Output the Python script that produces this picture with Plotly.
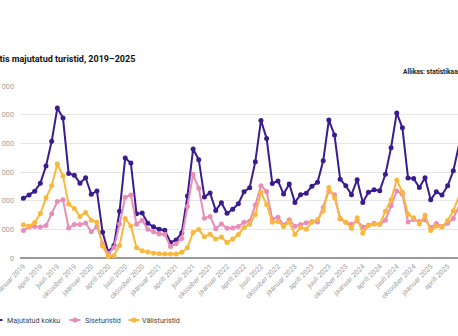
import plotly.graph_objects as go

# ---------------- data (thousands of tourists, monthly Jan 2019 – Jun 2025) -------------
total_k = [208, 220, 233, 261, 321, 407, 523, 488, 295, 289, 261, 280,
           222, 234, 90, 21, 44, 163, 349, 331, 154, 157, 121, 109,
           100, 97, 54, 63, 88, 216, 380, 343, 213, 227, 166, 193,
           156, 170, 189, 231, 245, 336, 480, 417, 260, 269, 223, 258,
           194, 221, 226, 250, 264, 339, 481, 429, 275, 252, 221, 273,
           194, 229, 238, 235, 292, 385, 506, 454, 279, 277, 246, 280,
           203, 231, 220, 252, 304, 393]
domestic_k = [96, 108, 110, 108, 113, 154, 197, 203, 105, 117, 117, 122,
              92, 110, 50, 15, 36, 119, 212, 220, 118, 132, 100, 92,
              84, 83, 40, 50, 68, 180, 292, 243, 139, 145, 102, 119,
              104, 105, 110, 125, 128, 185, 252, 232, 135, 142, 115, 133,
              111, 117, 123, 127, 126, 176, 233, 221, 136, 125, 118, 130,
              108, 115, 121, 118, 132, 182, 234, 222, 126, 134, 127, 133,
              107, 120, 110, 121, 138, 180]
foreign_k = [116, 111, 124, 155, 210, 252, 328, 286, 188, 173, 145, 159,
             132, 125, 42, 5, 8, 44, 138, 112, 36, 25, 21, 17,
             15, 14, 14, 14, 20, 36, 89, 99, 74, 83, 66, 73,
             54, 66, 82, 106, 118, 152, 229, 187, 125, 127, 110, 125,
             82, 106, 100, 125, 134, 164, 246, 210, 139, 125, 104, 140,
             86, 113, 118, 118, 163, 203, 272, 230, 153, 140, 119, 149,
             96, 112, 108, 131, 165, 215]

series_names = ["Majutatud kokku", "Siseturistid", "Välisturistid"]
series_values = [total_k, domestic_k, foreign_k]
series_colors = ["#3a1c8f", "#ea8db6", "#f9b83c"]

tick_labels = []
for yr in range(2019, 2026):
    for m in ["jaanuar", "aprill", "juuli", "oktoober"]:
        tick_labels.append(f"{m} {yr}")
tick_labels = tick_labels[:26]  # jaanuar 2019 … aprill 2025
tick_positions = [3 * k for k in range(len(tick_labels))]

y_ticks = [0, 100000, 200000, 300000, 400000, 500000, 600000]
y_tick_text = ["0", "100 000", "200 000", "300 000", "400 000", "500 000", "600 000"]

title_text = "Eestis majutatud turistid, 2019–2025"
source_text = "Allikas: statistikaamet"

# ---------------- figure -------------
W, H = 458, 336
ML, MR, MT, MB = 20, 0, 86, 78
PW, PH = W - ML - MR, H - MT - MB

def px_x(p):
    return (p - ML) / PW

def px_y(p):
    return (H - MB - p) / PH

fig = go.Figure()
for name, vals, col in zip(series_names, series_values, series_colors):
    fig.add_trace(go.Scatter(
        x=list(range(len(vals))),
        y=[v * 1000 for v in vals],
        name=name,
        mode="lines+markers",
        line=dict(color=col, width=2),
        marker=dict(color=col, size=5),
        cliponaxis=False,
        showlegend=False,
        hoverinfo="skip",
    ))

font_family = "Roboto, Inter, 'Open Sans', sans-serif"

fig.update_layout(
    width=W, height=H, autosize=False,
    margin=dict(l=ML, r=MR, t=MT, b=MB, pad=0, autoexpand=False),
    paper_bgcolor="white", plot_bgcolor="white",
    font=dict(family=font_family, size=7, color="#999999"),
    showlegend=False,
    xaxis=dict(
        range=[-0.6, 76.83], automargin=False,
        tickmode="array", tickvals=tick_positions, ticktext=tick_labels,
        tickangle=-45, tickfont=dict(size=7, color="#a0a0a0"),
        showgrid=False, zeroline=False, showline=False,
        ticks="", ticklabelstandoff=2, ticklabeloverflow="allow",
    ),
    yaxis=dict(
        range=[0, 600000], automargin=False,
        tickmode="array", tickvals=y_ticks, ticktext=y_tick_text,
        tickfont=dict(size=7.3, color="#a0a0a0"),
        showgrid=True, gridcolor="#e6e6e6", gridwidth=1,
        zeroline=True, zerolinecolor="#9a9a9a", zerolinewidth=1.5,
        showline=False, ticks="", ticklabelstandoff=5, ticklabeloverflow="allow",
    ),
)

# title & source
fig.add_annotation(
    text=f"<b>{title_text}</b>", xref="paper", yref="paper",
    x=px_x(137), y=px_y(59), xanchor="right", yanchor="middle",
    showarrow=False, font=dict(family=font_family, size=9, color="#111111"),
)
fig.add_annotation(
    text=f"<b>{source_text}</b>", xref="paper", yref="paper",
    x=px_x(401), y=px_y(72), xanchor="left", yanchor="middle",
    showarrow=False, font=dict(family=font_family, size=6.6, color="#222222"),
)

# custom legend
legend_sym_centers = [-3, 75, 134]
legend_text_starts = [5, 83, 140]
legend_y = 320
for name, col, cx, tx in zip(series_names, series_colors, legend_sym_centers, legend_text_starts):
    fig.add_shape(type="line", xref="paper", yref="paper",
                  x0=px_x(cx - 5.5), x1=px_x(cx + 5.5), y0=px_y(legend_y), y1=px_y(legend_y),
                  line=dict(color=col, width=2))
    fig.add_shape(type="circle", xref="paper", yref="paper",
                  xsizemode="pixel", ysizemode="pixel",
                  xanchor=px_x(cx), yanchor=px_y(legend_y),
                  x0=-2.6, x1=2.6, y0=-2.6, y1=2.6,
                  fillcolor=col, line=dict(color=col, width=0))
    fig.add_annotation(text=name, xref="paper", yref="paper",
                       x=px_x(tx), y=px_y(legend_y), xanchor="left", yanchor="middle",
                       showarrow=False, font=dict(family=font_family, size=7.2, color="#444444"))

fig.write_html("out.html")
